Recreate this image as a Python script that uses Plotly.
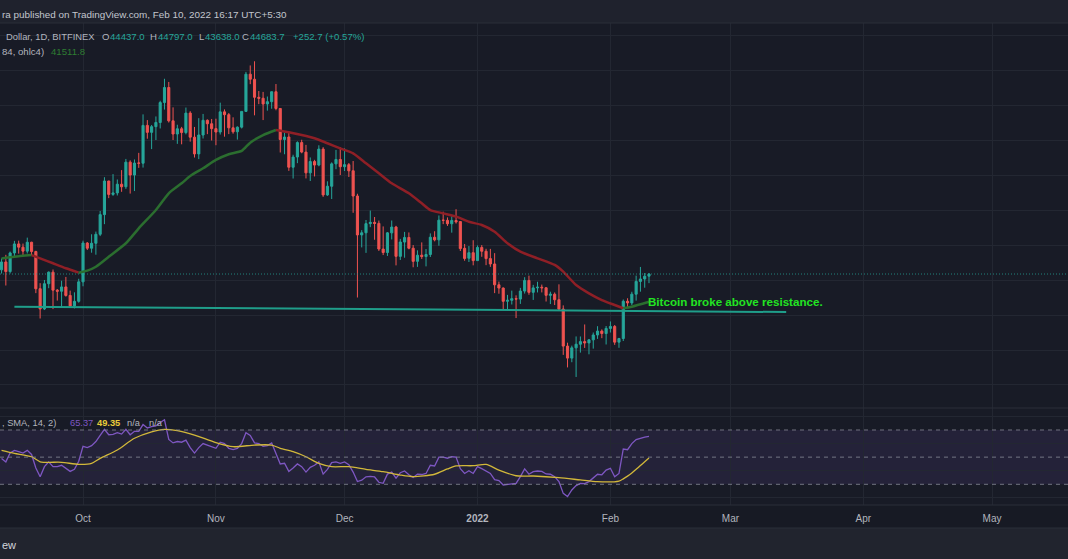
import pandas as pd
import plotly.graph_objects as go
from plotly.subplots import make_subplots

# daily BTC/USD candles, 12 Sep 2021 .. 10 Feb 2022 (one line per month)
dates = pd.date_range("2021-09-12", "2022-02-10", freq="D")

opens = [
    45161, 46063, 44963, 47093, 48126, 47754, 47299, 48314, 47254, 43003, 40694, 43574, 44896, 42840, 42716, 43208, 42235, 41034, 41565,
    43791, 48225, 47632, 48200, 49225, 51471, 55315, 53785, 53955, 54949, 54660, 57471, 55996, 57371, 57347, 61673, 60876, 61529, 62005, 64281, 66002, 62194, 60689, 61286, 60852, 63079, 60328, 58414, 60575, 62254, 61859,
    61300, 60911, 63220, 62897, 61396, 60941, 61471, 63274, 67526, 66947, 64883, 64774, 64123, 64381, 65519, 63607, 60059, 60345, 56892, 58057, 59707, 58617, 56247, 57541, 57139, 58961, 53723, 54716, 57274, 57777,
    56950, 57184, 56485, 53601, 49153, 49397, 50441, 50588, 50471, 47536, 47141, 49389, 50054, 46702, 48336, 48864, 47632, 46133, 46835, 46681, 46914, 48887, 48588, 50838, 50820, 50428, 50802, 50679, 47623, 46490, 47120,
    46216, 47722, 47286, 46446, 45832, 43451, 43082, 41566, 41679, 41865, 41821, 42735, 43949, 42591, 43099, 43177, 43113, 42250, 42375, 41744, 40680, 36446, 35071, 36245, 36660, 36958, 36809, 37160, 37716, 38166, 37881,
    38466, 38694, 36896, 37311, 41571, 41382, 42380, 43840, 44118, 44437.0,
]
highs = [
    46460, 46876, 47250, 48476, 48500, 48163, 48843, 48372, 47347, 43639, 44000, 44978, 45200, 42967, 43919, 44350, 42787, 42590, 44141,
    48495, 48336, 49228, 49536, 51886, 55750, 55339, 56100, 55489, 56561, 57839, 57680, 57777, 58532, 62933, 62278, 61720, 62695, 64486, 67000, 66639, 63732, 61747, 61500, 63711, 63293, 61496, 62499, 62980, 62359, 62405,
    62437, 64270, 63500, 63086, 62595, 61560, 63286, 67789, 68524, 69000, 65600, 65500, 64971, 65550, 66401, 63617, 60840, 60977, 58320, 59850, 60030, 59444, 58009, 57735, 59398, 59186, 55280, 57445, 58865, 59176,
    59053, 57375, 57600, 53859, 49699, 50857, 51936, 51200, 50797, 50125, 49485, 50800, 50192, 48700, 49500, 49436, 47995, 47392, 48300, 47537, 49328, 49576, 51375, 51810, 51156, 51281, 52088, 50704, 48119, 47879, 48548,
    47954, 47990, 47570, 47557, 47070, 43816, 43145, 42300, 42786, 42248, 43100, 44322, 44500, 43446, 43799, 43478, 43179, 42664, 42574, 43505, 41100, 36835, 36499, 37550, 37545, 38919, 37234, 38000, 38720, 38359, 38744,
    39265, 38855, 37387, 41772, 41913, 42656, 44500, 45492, 44799, 44797.0,
]
lows = [
    44742, 43371, 44750, 46719, 47016, 46750, 47033, 46830, 42500, 39600, 40565, 43063, 40675, 41647, 40829, 42098, 40888, 40753, 41410,
    43283, 47430, 47120, 46891, 49021, 50382, 53357, 53617, 53661, 54080, 54415, 53879, 54167, 56818, 56850, 60150, 58963, 60000, 61322, 63481, 62000, 60000, 59562, 59510, 60650, 59817, 58000, 57820, 60174, 60673, 59945,
    59405, 60624, 60382, 60677, 60721, 60050, 61322, 63273, 66382, 62822, 64100, 62278, 63360, 63577, 63400, 58574, 58373, 56474, 55600, 57354, 58486, 55610, 55317, 55837, 57000, 53500, 53610, 53256, 56666, 56000,
    56458, 55777, 51680, 42000, 47727, 47100, 50039, 48600, 47320, 46852, 46751, 48638, 45672, 46290, 46547, 47511, 45456, 45500, 46406, 45558, 46630, 48421, 47920, 50384, 50181, 49412, 50449, 47313, 46201, 46060, 45678,
    46208, 46654, 45696, 45500, 42500, 42430, 40610, 40501, 41200, 39650, 41268, 42450, 42311, 41725, 42577, 42581, 41540, 41250, 41138, 40553, 35440, 34009, 34601, 32917, 35701, 36234, 35507, 36155, 37268, 37351, 36632,
    38000, 36586, 36250, 37026, 40843, 41116, 41645, 42666, 43117, 43638.0,
]
closes = [
    46063, 44963, 47093, 48125, 47754, 47300, 48314, 47254, 42996, 40694, 43574, 44896, 42840, 42716, 43208, 42235, 41034, 41564, 43791,
    48225, 47632, 48200, 49224, 51471, 55315, 53785, 53951, 54949, 54659, 57471, 55996, 57367, 57347, 61672, 60875, 61528, 62010, 64280, 66001, 62193, 60688, 61286, 60852, 63078, 60328, 58413, 60575, 62253, 61859, 61299,
    60911, 63219, 62896, 61395, 60937, 61470, 63273, 67525, 66947, 64882, 64774, 64122, 64380, 65519, 63607, 60059, 60345, 56892, 58052, 59707, 58623, 56247, 57541, 57138, 58960, 53727, 54721, 57274, 57776, 56950,
    57184, 56480, 53601, 49152, 49396, 50441, 50588, 50471, 47545, 47140, 49389, 50053, 46702, 48343, 48864, 47632, 46131, 46834, 46681, 46914, 48889, 48588, 50838, 50821, 50429, 50809, 50640, 47588, 46464, 47120, 46216,
    47722, 47286, 46446, 45832, 43451, 43082, 41566, 41679, 41864, 41822, 42735, 43949, 42591, 43099, 43177, 43113, 42250, 42375, 41744, 40680, 36445, 35071, 36245, 36660, 36958, 36809, 37160, 37716, 38166, 37881, 38467,
    38694, 36897, 37311, 41574, 41382, 42380, 43840, 44118, 44431.0, 44683.7,
]

# EMA(34, ohlc4)
ema_dates = [
    "2021-09-12", "2021-09-15", "2021-09-19", "2021-09-21", "2021-09-24", "2021-09-27", "2021-09-30",
    "2021-10-02", "2021-10-04", "2021-10-07", "2021-10-11", "2021-10-14", "2021-10-18", "2021-10-21",
    "2021-10-24", "2021-10-26", "2021-10-29", "2021-11-01", "2021-11-04", "2021-11-07", "2021-11-09",
    "2021-11-12", "2021-11-15", "2021-11-18", "2021-11-21", "2021-11-24", "2021-11-27", "2021-11-30",
    "2021-12-03", "2021-12-06", "2021-12-09", "2021-12-12", "2021-12-16", "2021-12-19", "2021-12-21",
    "2021-12-24", "2021-12-27", "2021-12-30", "2022-01-02", "2022-01-05", "2022-01-08", "2022-01-11",
    "2022-01-15", "2022-01-19", "2022-01-21", "2022-01-24", "2022-01-27", "2022-01-30", "2022-02-02",
    "2022-02-04", "2022-02-06", "2022-02-10",
]
ema_values = [
    46450, 46650, 46850, 46480, 45910, 45340, 44840,
    45070, 45520, 46660, 48200, 49910, 52000, 53910,
    55050, 55890, 56770, 57720, 58370, 58750, 59700,
    60570, 61150, 60880, 60570, 60200, 59630, 59050,
    58480, 57340, 56200, 55050, 53910, 52770, 52000,
    51620, 51240, 50660, 50290, 49520, 48200, 47240,
    46480, 45720, 44950, 43430, 42480, 41710, 41140,
    40770, 40950, 41511.8,
]

# RSI(14), one value per candle
rsi_values = [
    49, 46.5, 53, 55, 54, 53, 55, 52, 42, 35.5, 43, 46.5, 43, 43, 44, 42, 39.5, 41, 47,
    58, 57, 58.5, 61.5, 66, 70.5, 66.5, 66.8, 68, 67, 70.5, 66.5, 69, 69, 74, 71.5, 72.5, 73, 75.5, 77.5, 63, 60.5, 61.5, 61, 62.5, 57, 53, 57, 60, 59, 57.5,
    56.5, 61, 60, 56.5, 55.5, 56.5, 60, 68, 66, 60.5, 60, 58, 58.5, 60.5, 53, 45, 45.5, 39.5, 42, 45, 43, 39, 42.5, 44, 46.5, 37.5, 41, 46, 46.5, 45.5,
    46.5, 44.5, 39, 32, 33, 35.5, 35.8, 35.4, 31.5, 30.7, 37.5, 39, 34.5, 38.5, 39.8, 37, 35, 37.5, 37.2, 38, 44, 43.5, 50, 50, 49.2, 50.3, 50, 41.5, 38, 40, 38,
    43, 41.5, 39.5, 38, 33.5, 32.8, 29.5, 30, 30.5, 30.7, 35.6, 41.3, 37.4, 39.3, 39.8, 39.5, 37.6, 37.4, 35.6, 32, 23.3, 21, 25.8, 29, 30.7, 30.5, 32, 34.4, 37.4, 37, 40.5,
    41.8, 35.6, 38, 56, 55.5, 60, 63, 64, 64.8, 65.37,
]

# SMA(14) of the RSI
rsi_sma_dates = [
    "2021-09-12", "2021-09-15", "2021-09-19", "2021-09-21", "2021-09-26", "2021-09-30", "2021-10-03",
    "2021-10-05", "2021-10-09", "2021-10-13", "2021-10-17", "2021-10-20", "2021-10-23", "2021-10-27",
    "2021-11-01", "2021-11-05", "2021-11-10", "2021-11-14", "2021-11-16", "2021-11-19", "2021-11-22",
    "2021-11-25", "2021-11-28", "2021-12-02", "2021-12-06", "2021-12-10", "2021-12-14", "2021-12-17",
    "2021-12-22", "2021-12-25", "2021-12-27", "2021-12-31", "2022-01-03", "2022-01-06", "2022-01-10",
    "2022-01-14", "2022-01-20", "2022-01-25", "2022-01-29", "2022-02-03", "2022-02-04", "2022-02-05",
    "2022-02-06", "2022-02-07", "2022-02-08", "2022-02-09", "2022-02-10",
]
rsi_sma_values = [
    55, 52.8, 50.3, 46.6, 46.2, 44.7, 45.4,
    49.1, 55.3, 63.9, 68.7, 70.5, 69.5, 66.3,
    60.7, 57.7, 58.9, 58.9, 56.5, 54, 50.3,
    45.4, 43, 43, 41, 39.3, 36.8, 35.6,
    37.4, 41.3, 43.5, 43.7, 44.7, 40.5, 36.3,
    36.1, 34.9, 33.2, 31.9, 32.4, 34, 36,
    38.3, 41, 43.8, 46.6, 49.35,
]

# drawn trend line and its note
resistance_dates = ["2021-09-15", "2022-03-14"]
resistance_prices = [40950, 40340]
note_date = "2022-02-09 07:00"
note_price = 41490

month_ticks = ["2021-10-01", "2021-11-01", "2021-12-01", "2022-01-01",
               "2022-02-01", "2022-03-01", "2022-04-01", "2022-05-01"]
month_labels = ["Oct", "Nov", "Dec", "<b>2022</b>", "Feb", "Mar", "Apr", "May"]

UP = "#26a69a"
DOWN = "#ef5350"
TEXT = "#b2b5be"
BG = "#181b26"
GRID = "#232732"
FONT = "Liberation Sans, Arial, sans-serif"

W, H = 1068, 559
TOP, BOTTOM = 23, 505      # pixel rows of the plotting area
SPLIT = 408                # border between price pane and RSI pane
plot_h = BOTTOM - TOP


def paper_y(py):
    return (BOTTOM - py) / plot_h


rsi_share = (BOTTOM - SPLIT) / plot_h
fig = make_subplots(rows=2, cols=1, shared_xaxes=True, vertical_spacing=0,
                    row_heights=[1 - rsi_share, rsi_share])

fig.add_trace(go.Candlestick(
    x=dates, open=opens, high=highs, low=lows, close=closes,
    increasing=dict(line=dict(color=UP, width=1), fillcolor=UP),
    decreasing=dict(line=dict(color=DOWN, width=1), fillcolor=DOWN),
    whiskerwidth=0, showlegend=False, hoverinfo="skip",
), row=1, col=1)

# EMA coloured by direction: green while rising, red while falling
segments = []
for i in range(len(ema_values) - 1):
    col = "#2b6e2f" if ema_values[i + 1] >= ema_values[i] else "#8f1f26"
    if segments and segments[-1][0] == col:
        segments[-1][1].append(i + 1)
    else:
        segments.append([col, [i, i + 1]])
for col, idx in segments:
    fig.add_trace(go.Scatter(
        x=[ema_dates[k] for k in idx], y=[ema_values[k] for k in idx],
        mode="lines", line=dict(color=col, width=2.5, shape="spline", smoothing=0.6),
        showlegend=False, hoverinfo="skip",
    ), row=1, col=1)

fig.add_trace(go.Scatter(
    x=resistance_dates, y=resistance_prices, mode="lines",
    line=dict(color="#1f9e8a", width=2), showlegend=False, hoverinfo="skip",
), row=1, col=1)

fig.add_trace(go.Scatter(
    x=dates, y=rsi_values, mode="lines", line=dict(color="#7e57c2", width=1.3),
    showlegend=False, hoverinfo="skip",
), row=2, col=1)
fig.add_trace(go.Scatter(
    x=rsi_sma_dates, y=rsi_sma_values, mode="lines",
    line=dict(color="#d2b83a", width=1.3, shape="spline", smoothing=0.7),
    showlegend=False, hoverinfo="skip",
), row=2, col=1)

x_range = ["2021-09-11 15:20", "2022-05-18 17:20"]
for r in (1, 2):
    fig.update_xaxes(range=x_range, tickvals=month_ticks, ticktext=month_labels,
                     showgrid=True, gridcolor=GRID, gridwidth=1, zeroline=False,
                     showline=False, ticks="", rangeslider_visible=False, row=r, col=1)
fig.update_xaxes(showticklabels=False, row=1, col=1)
fig.update_xaxes(showticklabels=True, tickfont=dict(size=10, color=TEXT, family=FONT),
                 ticklabelstandoff=6, row=2, col=1)

fig.update_yaxes(range=[29370, 73376], tick0=0, dtick=4000, showticklabels=False,
                 showgrid=True, gridcolor=GRID, zeroline=False, row=1, col=1)
fig.update_yaxes(range=[14.75, 86.2], tickvals=[20, 40, 60, 80], showticklabels=False,
                 showgrid=True, gridcolor=GRID, zeroline=False, row=2, col=1)

shapes = [
    # header and footer bars
    dict(type="rect", xref="paper", yref="paper", x0=0, x1=1, y0=paper_y(TOP), y1=paper_y(0),
         fillcolor="#1f222d", line_width=0, layer="below"),
    dict(type="rect", xref="paper", yref="paper", x0=0, x1=1, y0=paper_y(H), y1=paper_y(528),
         fillcolor="#21242e", line_width=0, layer="below"),
    # RSI band 30..70
    dict(type="rect", xref="paper", yref="y2", x0=0, x1=1, y0=30, y1=70,
         fillcolor="rgba(126,87,194,0.12)", line_width=0, layer="below"),
    # last price
    dict(type="line", xref="paper", yref="y", x0=0, x1=1, y0=closes[-1], y1=closes[-1],
         line=dict(color="rgba(38,166,154,0.75)", width=1, dash="1px,2px")),
]
for lvl in (30, 50, 70):
    shapes.append(dict(type="line", xref="paper", yref="y2", x0=0, x1=1, y0=lvl, y1=lvl,
                       line=dict(color="rgba(135,138,150,0.8)", width=1, dash="4px,4px")))
for py in (TOP, SPLIT, BOTTOM, 528):
    shapes.append(dict(type="line", xref="paper", yref="paper", x0=0, x1=1,
                       y0=paper_y(py), y1=paper_y(py), line=dict(color="#2a2e39", width=1)))

change = closes[-1] - closes[-2]
pct = change / closes[-2] * 100

# legend pieces: (text, colour, left pixel, centre pixel row, size)
legend_bits = [
    ("Dollar, 1D, BITFINEX", TEXT, 4, 36, 9.4),
    ("O", TEXT, 100, 36, 9.6), ("%.1f" % opens[-1], UP, 108, 36, 9.6),
    ("H", TEXT, 148, 36, 9.6), ("%.1f" % highs[-1], UP, 156, 36, 9.6),
    ("L", TEXT, 197, 36, 9.6), ("%.1f" % lows[-1], UP, 203, 36, 9.6),
    ("C", TEXT, 240, 36, 9.6), ("%.1f" % closes[-1], UP, 248, 36, 9.6),
    ("%+.1f (%+.2f%%)" % (change, pct), UP, 291, 36, 9.6),
    ("84, ohlc4)", TEXT, 0, 51, 9.6), ("%.1f" % ema_values[-1], "#2e7d32", 49, 51, 9.6),
    (", SMA, 14, 2)", TEXT, 0, 423, 9.3),
    ("%.2f" % rsi_values[-1], "#7e57c2", 68, 423, 9.3),
    ("<b>%.2f</b>" % rsi_sma_values[-1], "#e8cc3a", 95, 423, 9.3),
    ("n/a", TEXT, 125, 423, 9.3), ("n/a", TEXT, 147, 423, 9.3),
    ("ra published on TradingView.com, Feb 10, 2022 16:17 UTC+5:30", "#c3c6ce", 0, 14, 9.9),
    ("ew", "#d1d4dc", 0, 545, 11),
]
annotations = [
    dict(text=t, x=px / W, y=paper_y(py), xref="paper", yref="paper", xanchor="left",
         yanchor="middle", showarrow=False, font=dict(size=s, color=c, family=FONT))
    for t, c, px, py, s in legend_bits
]
annotations.append(dict(text="Bitcoin broke above resistance.", x=note_date, y=note_price,
                        xref="x", yref="y", xanchor="left", yanchor="middle", showarrow=False,
                        font=dict(size=11.6, color="#22e422", family=FONT, weight=600)))

fig.update_layout(
    width=W, height=H,
    margin=dict(l=0, r=0, t=TOP, b=H - BOTTOM, pad=0),
    paper_bgcolor="#171a24", plot_bgcolor=BG,
    font=dict(family=FONT, color=TEXT),
    shapes=shapes, annotations=annotations,
    showlegend=False, hovermode=False,
)

fig.write_html("out.html", config={"displayModeBar": False},
               post_script="document.body.style.margin='0';document.body.style.overflow='hidden';")
